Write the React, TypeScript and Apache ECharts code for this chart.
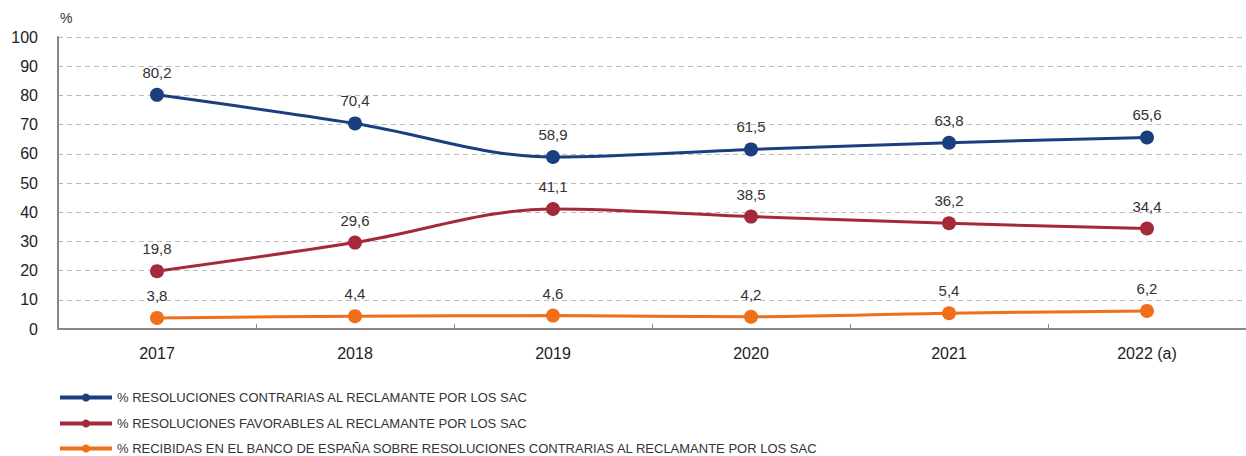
import React, { useEffect, useRef } from "react";
import * as echarts from "echarts";

const categories = ["2017", "2018", "2019", "2020", "2021", "2022 (a)"];
const contrarias = [80.2, 70.4, 58.9, 61.5, 63.8, 65.6];
const favorables = [19.8, 29.6, 41.1, 38.5, 36.2, 34.4];
const recibidas = [3.8, 4.4, 4.6, 4.2, 5.4, 6.2];
const seriesNames = [
  "% RESOLUCIONES CONTRARIAS AL RECLAMANTE POR LOS SAC",
  "% RESOLUCIONES FAVORABLES AL RECLAMANTE POR LOS SAC",
  "% RECIBIDAS EN EL BANCO DE ESPAÑA SOBRE RESOLUCIONES CONTRARIAS AL RECLAMANTE POR LOS SAC",
];
const colors = ["#1b3f7e", "#a42a3a", "#ef7019"];

export default function App() {
  const ref = useRef<HTMLDivElement>(null);
  useEffect(() => {
    document.body.style.margin = "0";
    const chart = echarts.init(ref.current!, null, { renderer: "svg" });
    const font = "Helvetica, Arial, 'Liberation Sans', sans-serif";
    const mk = (name: string, data: number[], color: string) => ({
      name,
      type: "line",
      data,
      smooth: 0.35,
      symbol: "circle",
      symbolSize: 14,
      itemStyle: { color },
      lineStyle: { color, width: 3 },
      label: {
        show: true,
        position: "top",
        distance: 8,
        color: "#333",
        fontSize: 15,
        fontFamily: font,
        formatter: (p: any) => String(p.value).replace(".", ","),
      },
    });
    const legendTops = [386, 412, 437];
    const legends = seriesNames.map((n, i) => ({
      orient: "horizontal",
      left: 53,
      top: legendTops[i],
      itemWidth: 52,
      itemHeight: 10,
      data: [n],
      itemStyle: { color: colors[i] },
      lineStyle: { color: colors[i], width: 4 },
      textStyle: {
        fontFamily: font,
        fontSize: 13,
        color: "#333",
      },
    }));
    chart.setOption({
      animation: false,
      textStyle: { fontFamily: font },
      grid: { left: 58, right: -16, top: 37, bottom: 127 },
      legend: legends,
      xAxis: {
        type: "category",
        data: categories,
        boundaryGap: true,
        axisLine: { lineStyle: { color: "#888", width: 2 } },
        axisTick: { show: true, lineStyle: { color: "#888" }, length: 5, inside: true },
        axisLabel: { color: "#222", fontSize: 16, margin: 16, fontFamily: font },
        splitLine: { show: false },
      },
      yAxis: {
        type: "value",
        min: 0,
        max: 100,
        interval: 10,
        name: "%",
        nameLocation: "end",
        nameGap: 12,
        nameTextStyle: { color: "#333", fontSize: 14, align: "left", padding: [0, 0, 0, 2] },
        axisLine: { show: true, lineStyle: { color: "#888", width: 2 } },
        axisTick: { show: false },
        axisLabel: { color: "#222", fontSize: 16, margin: 20, fontFamily: font },
        splitLine: { lineStyle: { color: "#bbb", type: [5, 4], width: 1 } },
      },
      series: [
        mk(seriesNames[0], contrarias, colors[0]),
        mk(seriesNames[1], favorables, colors[1]),
        mk(seriesNames[2], recibidas, colors[2]),
      ],
    });
    return () => chart.dispose();
  }, []);
  return (
    <div
      ref={ref}
      style={{ position: "absolute", left: 0, top: 0, width: 1246, height: 456 }}
    />
  );
}
